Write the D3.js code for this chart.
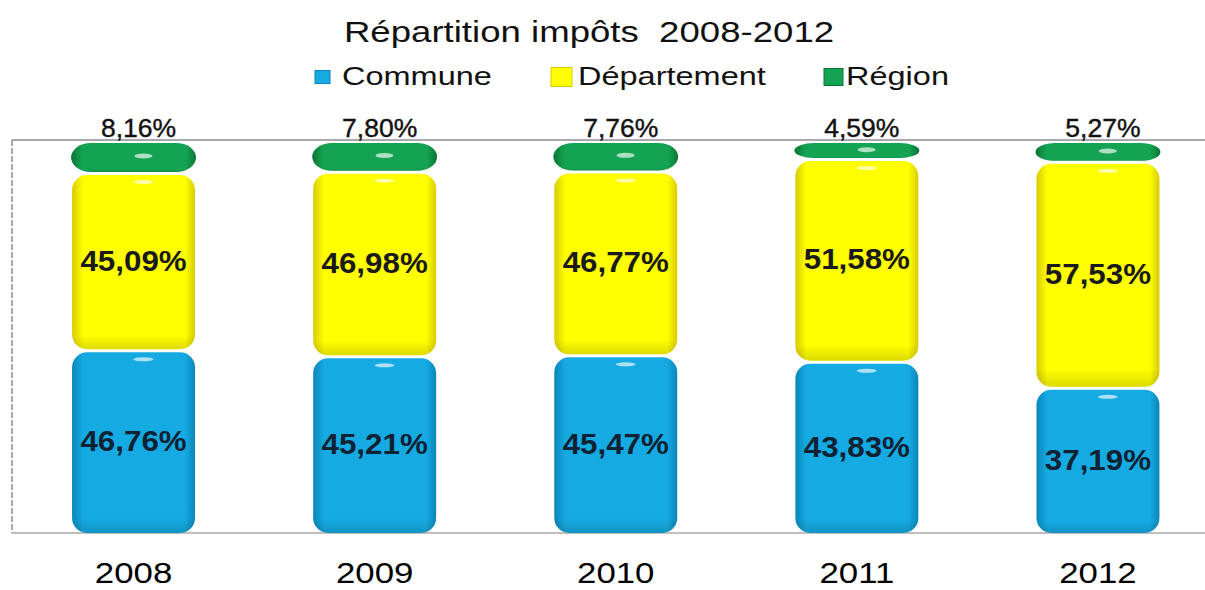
<!DOCTYPE html>
<html>
<head>
<meta charset="utf-8">
<script src="https://cdn.jsdelivr.net/npm/d3@7"></script>
<style>
html,body{margin:0;padding:0;background:#fff;}
svg{display:block;font-family:"Liberation Sans",Arial,sans-serif;}
text{white-space:pre;}
</style>
</head>
<body>
<svg id="chart" width="1205" height="590"></svg>
<script>
const title = "Répartition impôts  2008-2012";
const years = ["2008","2009","2010","2011","2012"];
const seriesNames = ["Commune","Département","Région"];
const commune = [46.76,45.21,45.47,43.83,37.19];
const departement = [45.09,46.98,46.77,51.58,57.53];
const region = [8.16,7.80,7.76,4.59,5.27];

const colors = {
  "Commune": {base:"#16aae2", dark:"#0a86b8", label:"#0f2233"},
  "Département": {base:"#ffff00", dark:"#d8cc00", label:"#1a1a1a"},
  "Région": {base:"#14a352", dark:"#0a7436", label:"#111"}
};
const keyOf = {"Commune":"c","Département":"d","Région":"r"};

const rows = years.map((y,i)=>({year:y, c:commune[i], d:departement[i], r:region[i]}));
const stack = d3.stack().keys(["c","d","r"]);
const layers = stack(rows);

const svg = d3.select("#chart");
const plot = {left:12, right:1205, top:140, bottom:533};

const x = d3.scaleBand().domain(years).range([13, 1218.5]).paddingInner(0.49).paddingOuter(0.245);
const y = d3.scaleLinear().domain([0,100]).range([plot.bottom, plot.top]);

const fmt = v => d3.format(".2f")(v).replace(".", ",") + "%";

// gradients
const defs = svg.append("defs");
seriesNames.forEach(name=>{
  const c = colors[name];
  const g = defs.append("linearGradient").attr("id","g"+keyOf[name]).attr("x1","0").attr("x2","1").attr("y1","0").attr("y2","0");
  g.append("stop").attr("offset","0%").attr("stop-color",c.dark);
  g.append("stop").attr("offset","9%").attr("stop-color",c.base);
  g.append("stop").attr("offset","92%").attr("stop-color",c.base);
  g.append("stop").attr("offset","100%").attr("stop-color",c.dark);
  const v = defs.append("linearGradient").attr("id","v"+keyOf[name]).attr("x1","0").attr("x2","0").attr("y1","0").attr("y2","1");
  v.append("stop").attr("offset","0%").attr("stop-color","#000").attr("stop-opacity",0);
  v.append("stop").attr("offset","92%").attr("stop-color","#000").attr("stop-opacity",0);
  v.append("stop").attr("offset","100%").attr("stop-color","#000").attr("stop-opacity",0.14);
});

// frame
svg.append("line").attr("x1",plot.left).attr("x2",plot.right).attr("y1",plot.top).attr("y2",plot.top)
  .attr("stroke","#8c8c8c").attr("stroke-width",1.5);
svg.append("line").attr("x1",plot.left).attr("x2",plot.right).attr("y1",plot.bottom).attr("y2",plot.bottom)
  .attr("stroke","#a8a8a8").attr("stroke-width",1.5);
svg.append("line").attr("x1",plot.left).attr("x2",plot.left).attr("y1",plot.top).attr("y2",plot.bottom)
  .attr("stroke","#8c8c8c").attr("stroke-width",1.5).attr("stroke-dasharray","6,2");

// bars
const gap = 3;
layers.forEach((layer)=>{
  const k = layer.key;
  const g = svg.append("g");
  layer.forEach(d=>{
    const bx = x(d.data.year), bw = x.bandwidth();
    const top = y(d[1]) + gap;
    const h = Math.max(2, y(d[0]) - y(d[1]) - gap);
    const isRegion = k === "r";
    const rx = isRegion ? 20 : 15;
    const ry = isRegion ? h/2 : Math.min(15, h/2);
    const ex = isRegion ? 1 : 0;
    g.append("rect").attr("x",bx-ex).attr("y",top).attr("width",bw+2*ex).attr("height",h)
      .attr("rx",rx).attr("ry",ry).attr("fill","url(#g"+k+")");
    g.append("rect").attr("x",bx-ex).attr("y",top).attr("width",bw+2*ex).attr("height",h)
      .attr("rx",rx).attr("ry",ry).attr("fill","url(#v"+k+")");
    g.append("ellipse").attr("cx",bx+bw*0.58).attr("cy",top+(isRegion? h*0.45 : 7))
      .attr("rx",isRegion?9:10).attr("ry",isRegion?2.5:2).attr("fill","#fff").attr("opacity",0.65);
  });
});

// value labels
layers.forEach((layer, li)=>{
  const name = seriesNames[li];
  const k = layer.key;
  layer.forEach(d=>{
    const cx = x(d.data.year) + x.bandwidth()/2;
    if (k === "r") {
      svg.append("text").attr("transform",`translate(${cx+5},${plot.top - 3}) scale(1.02,1)`)
        .attr("text-anchor","middle").attr("font-size",26).attr("fill","#111")
        .attr("stroke","#111").attr("stroke-width",0.4)
        .text(fmt(d.data[k]));
    } else {
      const cy = (y(d[0]) + y(d[1]))/2 + 10;
      svg.append("text").attr("transform",`translate(${cx},${cy}) scale(1.08,1)`)
        .attr("text-anchor","middle").attr("font-size",29).attr("font-weight","bold")
        .attr("fill",colors[name].label).text(fmt(d.data[k]));
    }
  });
});

// year axis labels
years.forEach(yr=>{
  svg.append("text").attr("transform",`translate(${x(yr)+x.bandwidth()/2},583) scale(1.2,1)`)
    .attr("text-anchor","middle").attr("font-size",29).attr("fill","#000").text(yr);
});

// title
svg.append("text").attr("transform",`translate(${(335+843)/2},42) scale(1.22,1)`)
  .attr("text-anchor","middle").attr("font-size",30).attr("fill","#111").text(title);

// legend
const legendPos = [
  {sx:315, sw:15, sh:13, tx:342},
  {sx:551, sw:21, sh:19, tx:578},
  {sx:824, sw:19, sh:17, tx:846}
];
seriesNames.forEach((name,i)=>{
  const p = legendPos[i];
  svg.append("rect").attr("x",p.sx).attr("y",77 - p.sh/2).attr("width",p.sw).attr("height",p.sh)
    .attr("fill",colors[name].base).attr("stroke",colors[name].dark).attr("stroke-width",1);
  svg.append("text").attr("transform",`translate(${p.tx},85) scale(1.3,1)`)
    .attr("font-size",25).attr("fill","#111").text(name);
});
</script>
</body>
</html>
